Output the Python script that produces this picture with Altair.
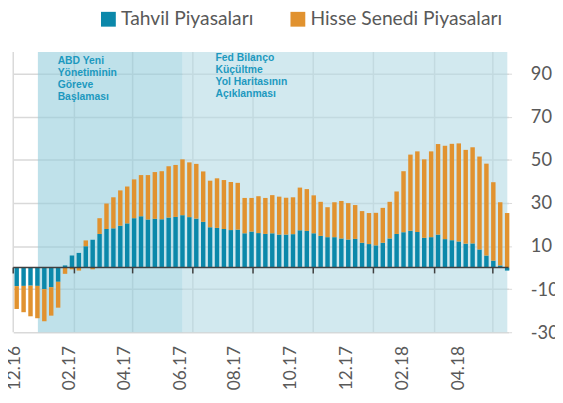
import altair as alt
import pandas as pd

# ---- data -------------------------------------------------------------
series_names = ["Tahvil Piyasaları", "Hisse Senedi Piyasaları"]

# weekly observations, Dec 2016 - Apr 2018
week_dates = pd.date_range("2016-12-04 12:00", periods=72, freq="7D")

tahvil = [-8.6, -8.5, -8.4, -8.5, -10.0, -9.1, -6.6, 1.0, 5.6, 6.8,
          9.9, 12.9, 15.6, 17.9, 18.2, 19.4, 20.5, 22.9, 23.8, 22.3,
          22.6, 22.4, 23.2, 23.5, 24.3, 23.4, 22.7, 21.2, 18.7, 18.4,
          17.9, 17.4, 17.6, 15.9, 16.7, 16.0, 15.6, 15.9, 15.3, 15.3,
          15.5, 17.3, 17.0, 15.9, 14.7, 14.1, 14.1, 13.5, 13.0, 13.3,
          11.5, 10.9, 10.3, 11.5, 13.5, 15.6, 16.4, 17.1, 16.5, 13.8,
          14.1, 15.3, 13.2, 12.7, 12.1, 11.1, 11.2, 8.4, 5.6, 3.2,
          1.0, -1.4]

hisse = [-10.6, -12.2, -14.2, -15.0, -14.9, -13.2, -12.0, -2.9, -0.8, -1.4,
         2.7, -0.8, 7.3, 11.8, 14.4, 16.4, 17.1, 18.0, 19.1, 20.6,
         21.7, 22.3, 23.8, 24.1, 25.9, 25.4, 25.4, 23.4, 21.6, 23.0,
         22.7, 22.3, 21.7, 16.4, 15.6, 17.1, 16.7, 17.7, 17.6, 17.1,
         17.1, 19.8, 19.4, 17.6, 15.8, 13.9, 16.2, 17.4, 16.9, 15.7,
         14.7, 14.4, 15.1, 16.2, 17.0, 19.7, 28.3, 35.3, 37.4, 36.4,
         39.8, 42.0, 43.3, 44.7, 45.5, 43.5, 44.6, 43.1, 42.6, 36.4,
         29.3, 25.3]

# month tick marks / vertical grid
tick_dates = ["2016-12-01", "2017-02-01", "2017-04-01", "2017-06-01",
              "2017-08-01", "2017-10-01", "2017-12-01", "2018-02-01",
              "2018-04-01"]

# category labels shown under the plot
x_labels = ["12.16", "02.17", "04.17", "06.17", "08.17", "10.17",
            "12.17", "02.18", "04.18"]
x_label_dates = ["2016-12-03", "2017-01-28", "2017-03-24", "2017-05-20",
                 "2017-07-14", "2017-09-09", "2017-11-04", "2017-12-31",
                 "2018-02-26"]

# shaded periods
period_start = ["2016-12-26T00:00", "2017-05-21T16:00"]
period_end = ["2017-05-21T16:00", "2018-04-15T16:00"]
period_fill = ["#94cddc", "#b4dbe5"]

ann1 = "ABD Yeni\nYönetiminin\n Göreve\nBaşlaması"
ann2 = "Fed Bilanço\nKüçültme\nYol Haritasının\nAçıklanması"

y_ticks = [-30, -10, 10, 30, 50, 70, 90]

# ---- tables -----------------------------------------------------------
bars = pd.DataFrame({
    "date": list(week_dates) * 2,
    "value": tahvil + hisse,
    "seri": [series_names[0]] * 72 + [series_names[1]] * 72,
    "ord": [0] * 72 + [1] * 72,
})
ticks = pd.DataFrame({"date": pd.to_datetime(tick_dates)})
labels = pd.DataFrame({"date": pd.to_datetime(x_label_dates), "t": x_labels})
periods = pd.DataFrame({"s": pd.to_datetime(period_start),
                        "e": pd.to_datetime(period_end),
                        "c": period_fill})
one = pd.DataFrame({"k": [0]})

BLUE = "#0b88aa"
ORANGE = "#e1922f"
GRID = "#d9d9d9"
TXT = "#595959"
ANN = "#1d99bf"

def xsc():
    return alt.Scale(domain=[alt.DateTime(year=2016, month=12, date=1),
                             alt.DateTime(year=2018, month=4, date=17)],
                     nice=False, padding=0)

def ysc():
    return alt.Scale(domain=[-30, 100], nice=False, zero=False, padding=0)

vgrid = alt.Chart(ticks).mark_rule(color=GRID, strokeWidth=1.5).encode(
    x=alt.X("date:T", scale=xsc(), axis=None),
    y=alt.datum(-30, scale=ysc()),
    y2=alt.datum(100),
)

shade = alt.Chart(periods).mark_rect(fillOpacity=0.6, strokeWidth=0).encode(
    x=alt.X("s:T", scale=xsc(), axis=None),
    x2="e:T",
    y=alt.datum(-30, scale=ysc()),
    y2=alt.datum(100),
    fill=alt.Fill("c:N", scale=None, legend=None),
)

bar = alt.Chart(bars).mark_bar(size=4.5).encode(
    x=alt.X("date:T", scale=xsc(), axis=None),
    y=alt.Y("value:Q", stack="zero", scale=ysc(), title=None,
            axis=alt.Axis(orient="right", values=y_ticks, grid=True,
                          gridColor=GRID, gridWidth=1.5, domain=False,
                          tickColor=GRID, tickSize=3, tickWidth=1,
                          labelAlign="left", labelPadding=19,
                          labelExpr="datum.value + ''",
                          labelFont="Lato", labelFontSize=18.5,
                          labelColor=TXT)),
    color=alt.Color("seri:N",
                    scale=alt.Scale(domain=series_names, range=[BLUE, ORANGE]),
                    legend=alt.Legend(title=None, orient="none",
                                      legendX=86.7, legendY=-43.3,
                                      direction="horizontal",
                                      symbolType="square", symbolSize=225,
                                      symbolStrokeWidth=0, symbolOpacity=1,
                                      labelFont="Lato", labelFontSize=19.5,
                                      labelColor=TXT, labelOffset=3,
                                      labelLimit=0,
                                      columnPadding=35, padding=0)),
    order=alt.Order("ord:Q"),
)

zero = alt.Chart(one).mark_rule(color="#404040", strokeWidth=1.5).encode(
    y=alt.datum(0, scale=ysc())
)

tickmarks = alt.Chart(ticks).mark_rule(color="#404040", strokeWidth=1.5).encode(
    x=alt.X("date:T", scale=xsc(), axis=None),
    y=alt.datum(0, scale=ysc()),
    y2=alt.datum(-2.7),
)

xlab = alt.Chart(labels).mark_text(angle=270, align="right", baseline="middle",
                                   font="Lato", fontSize=17.5, color=TXT).encode(
    x=alt.X("date:T", scale=xsc(), axis=None),
    y=alt.value(298),
    text="t:N",
)

a1 = alt.Chart(one).mark_text(align="left", baseline="top", lineBreak="\n",
                              font="Liberation Sans", fontWeight="bold",
                              fontSize=10.5, lineHeight=12.3, color=ANN).encode(
    x=alt.datum(alt.DateTime(year=2017, month=1, date=15), scale=xsc()),
    y=alt.datum(98.3, scale=ysc()),
    text=alt.value(ann1),
)
a2 = alt.Chart(one).mark_text(align="left", baseline="top", lineBreak="\n",
                              font="Liberation Sans", fontWeight="bold",
                              fontSize=10.5, lineHeight=12.3, color=ANN).encode(
    x=alt.datum(alt.DateTime(year=2017, month=6, date=24), scale=xsc()),
    y=alt.datum(99.5, scale=ysc()),
    text=alt.value(ann2),
)

chart = alt.layer(vgrid, shade, bar, zero, tickmarks, xlab, a1, a2).properties(
    width=502, height=284,
    autosize=alt.AutoSizeParams(type="none"),
    padding={"left": 5.3, "top": 42, "right": 47, "bottom": 60},
).configure_view(stroke=None)

chart.save("out.html", embed_options={"renderer": "svg", "actions": False})
